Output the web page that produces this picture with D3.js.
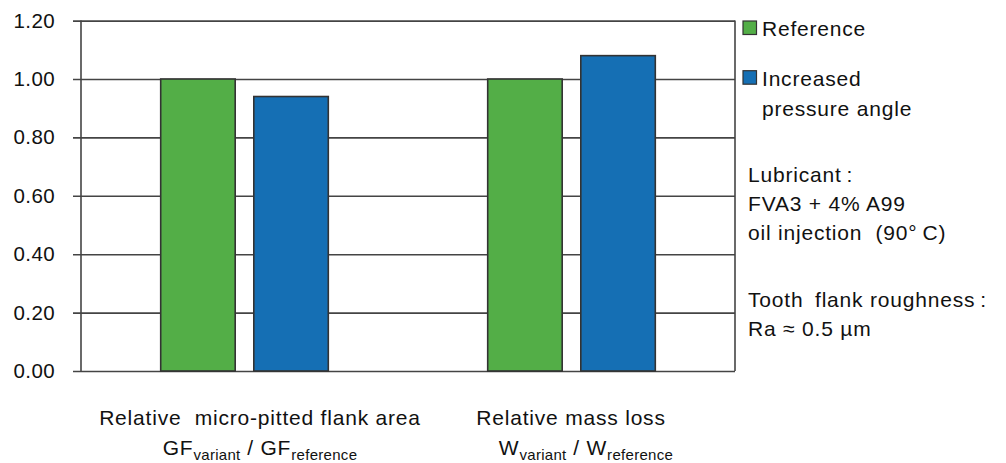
<!DOCTYPE html>
<html><head><meta charset="utf-8">
<script src="https://cdn.jsdelivr.net/npm/d3@7"></script>
<style>body{margin:0;background:#fff}text{font-family:"Liberation Sans",Arial,sans-serif;fill:#111}</style>
</head><body><svg id="c" width="1006" height="463"></svg>
<script>
const groups = ["g1","g2"];
const series = ["Reference","Increased pressure angle"];
const referenceValues = [1.00, 1.00];
const increasedValues = [0.94, 1.08];
const yTicks = [0,0.2,0.4,0.6,0.8,1.0,1.2];
const colors = ["#53ae47","#156fb4"];

const svg = d3.select("#c");
const L=81, R=735, T=20.6, B=371;
const FS=21, LS=0.8;
const y = d3.scaleLinear().domain([0,1.2]).range([B,T]);
const x0 = d3.scaleBand().domain(groups).range([L,R]).padding(0);
const x1 = d3.scaleBand().domain(series).range([79.7,247.3]).paddingInner(0.2).paddingOuter(0);

const yAxis = d3.axisLeft(y).tickValues(yTicks).tickFormat(d3.format(".2f")).tickSize(-(R-L)).tickPadding(26);
const ga = svg.append("g").attr("transform",`translate(${L},0)`).call(yAxis);
ga.select(".domain").remove();
ga.selectAll(".tick line").attr("x1",-8).attr("stroke","#444").attr("stroke-width",1.6);
ga.selectAll(".tick text").attr("font-size",20.5).attr("letter-spacing",0.4).attr("fill","#111").style("font-family","Liberation Sans, Arial, sans-serif");

svg.append("line").attr("x1",L).attr("x2",L).attr("y1",T).attr("y2",B).attr("stroke","#444").attr("stroke-width",1.6);
svg.append("line").attr("x1",R).attr("x2",R).attr("y1",T).attr("y2",B).attr("stroke","#444").attr("stroke-width",1.6);

const data = groups.map((g,i)=>({g, vals:[referenceValues[i], increasedValues[i]]}));
const gg = svg.append("g").selectAll("g").data(data).join("g").attr("transform",d=>`translate(${x0(d.g)},0)`);
gg.selectAll("rect").data(d=>d.vals.map((v,j)=>({s:series[j],v,j}))).join("rect")
  .attr("x",d=>x1(d.s)).attr("width",x1.bandwidth())
  .attr("y",d=>y(d.v)).attr("height",d=>B-y(d.v))
  .attr("fill",d=>colors[d.j]).attr("stroke","#333").attr("stroke-width",1.6);

const leg = [{t:["Reference"],y:21},{t:["Increased","pressure angle"],y:70.7}];
leg.forEach((l,i)=>{
  svg.append("rect").attr("x",743).attr("y",l.y).attr("width",13.5).attr("height",13.5).attr("fill",colors[i]).attr("stroke","#333").attr("stroke-width",1.2);
  l.t.forEach((t,k)=>svg.append("text").attr("x",762).attr("y",l.y+14.8+k*30.5).attr("font-size",FS).attr("letter-spacing",LS).text(t));
});

const notes = [["Lubricant\u2009:",181.5],["FVA3 + 4% A99",211],["oil injection\u00a0 (90°\u2009C)",240],["Tooth\u2009 flank roughness\u2009:",307],["Ra \u2248 0.5 µm",336]];
notes.forEach(n=>svg.append("text").attr("x",748).attr("y",n[1]).attr("font-size",FS).attr("letter-spacing",LS).text(n[0]));

function sub(sel, parts){
  parts.forEach(p=>{
    const ts = sel.append("tspan").text(p[0]);
    if(p[1]==="sub") ts.attr("font-size",15).attr("dy",5).attr("letter-spacing",0.3);
    else if(p[1]==="up") ts.attr("dy",-5);
  });
}
svg.append("text").attr("x",260).attr("y",425).attr("text-anchor","middle").attr("font-size",FS).attr("letter-spacing",LS).text("Relative\u00a0 micro-pitted flank area");
const t1b = svg.append("text").attr("x",260).attr("y",455).attr("text-anchor","middle").attr("font-size",FS).attr("letter-spacing",LS);
sub(t1b,[["GF"],["variant","sub"],[" / GF","up"],["reference","sub"]]);
svg.append("text").attr("x",571).attr("y",425).attr("text-anchor","middle").attr("font-size",FS).attr("letter-spacing",LS).text("Relative mass loss");
const t2b = svg.append("text").attr("x",586).attr("y",455).attr("text-anchor","middle").attr("font-size",FS).attr("letter-spacing",LS);
sub(t2b,[["W"],["variant","sub"],[" / W","up"],["reference","sub"]]);
</script></body></html>
